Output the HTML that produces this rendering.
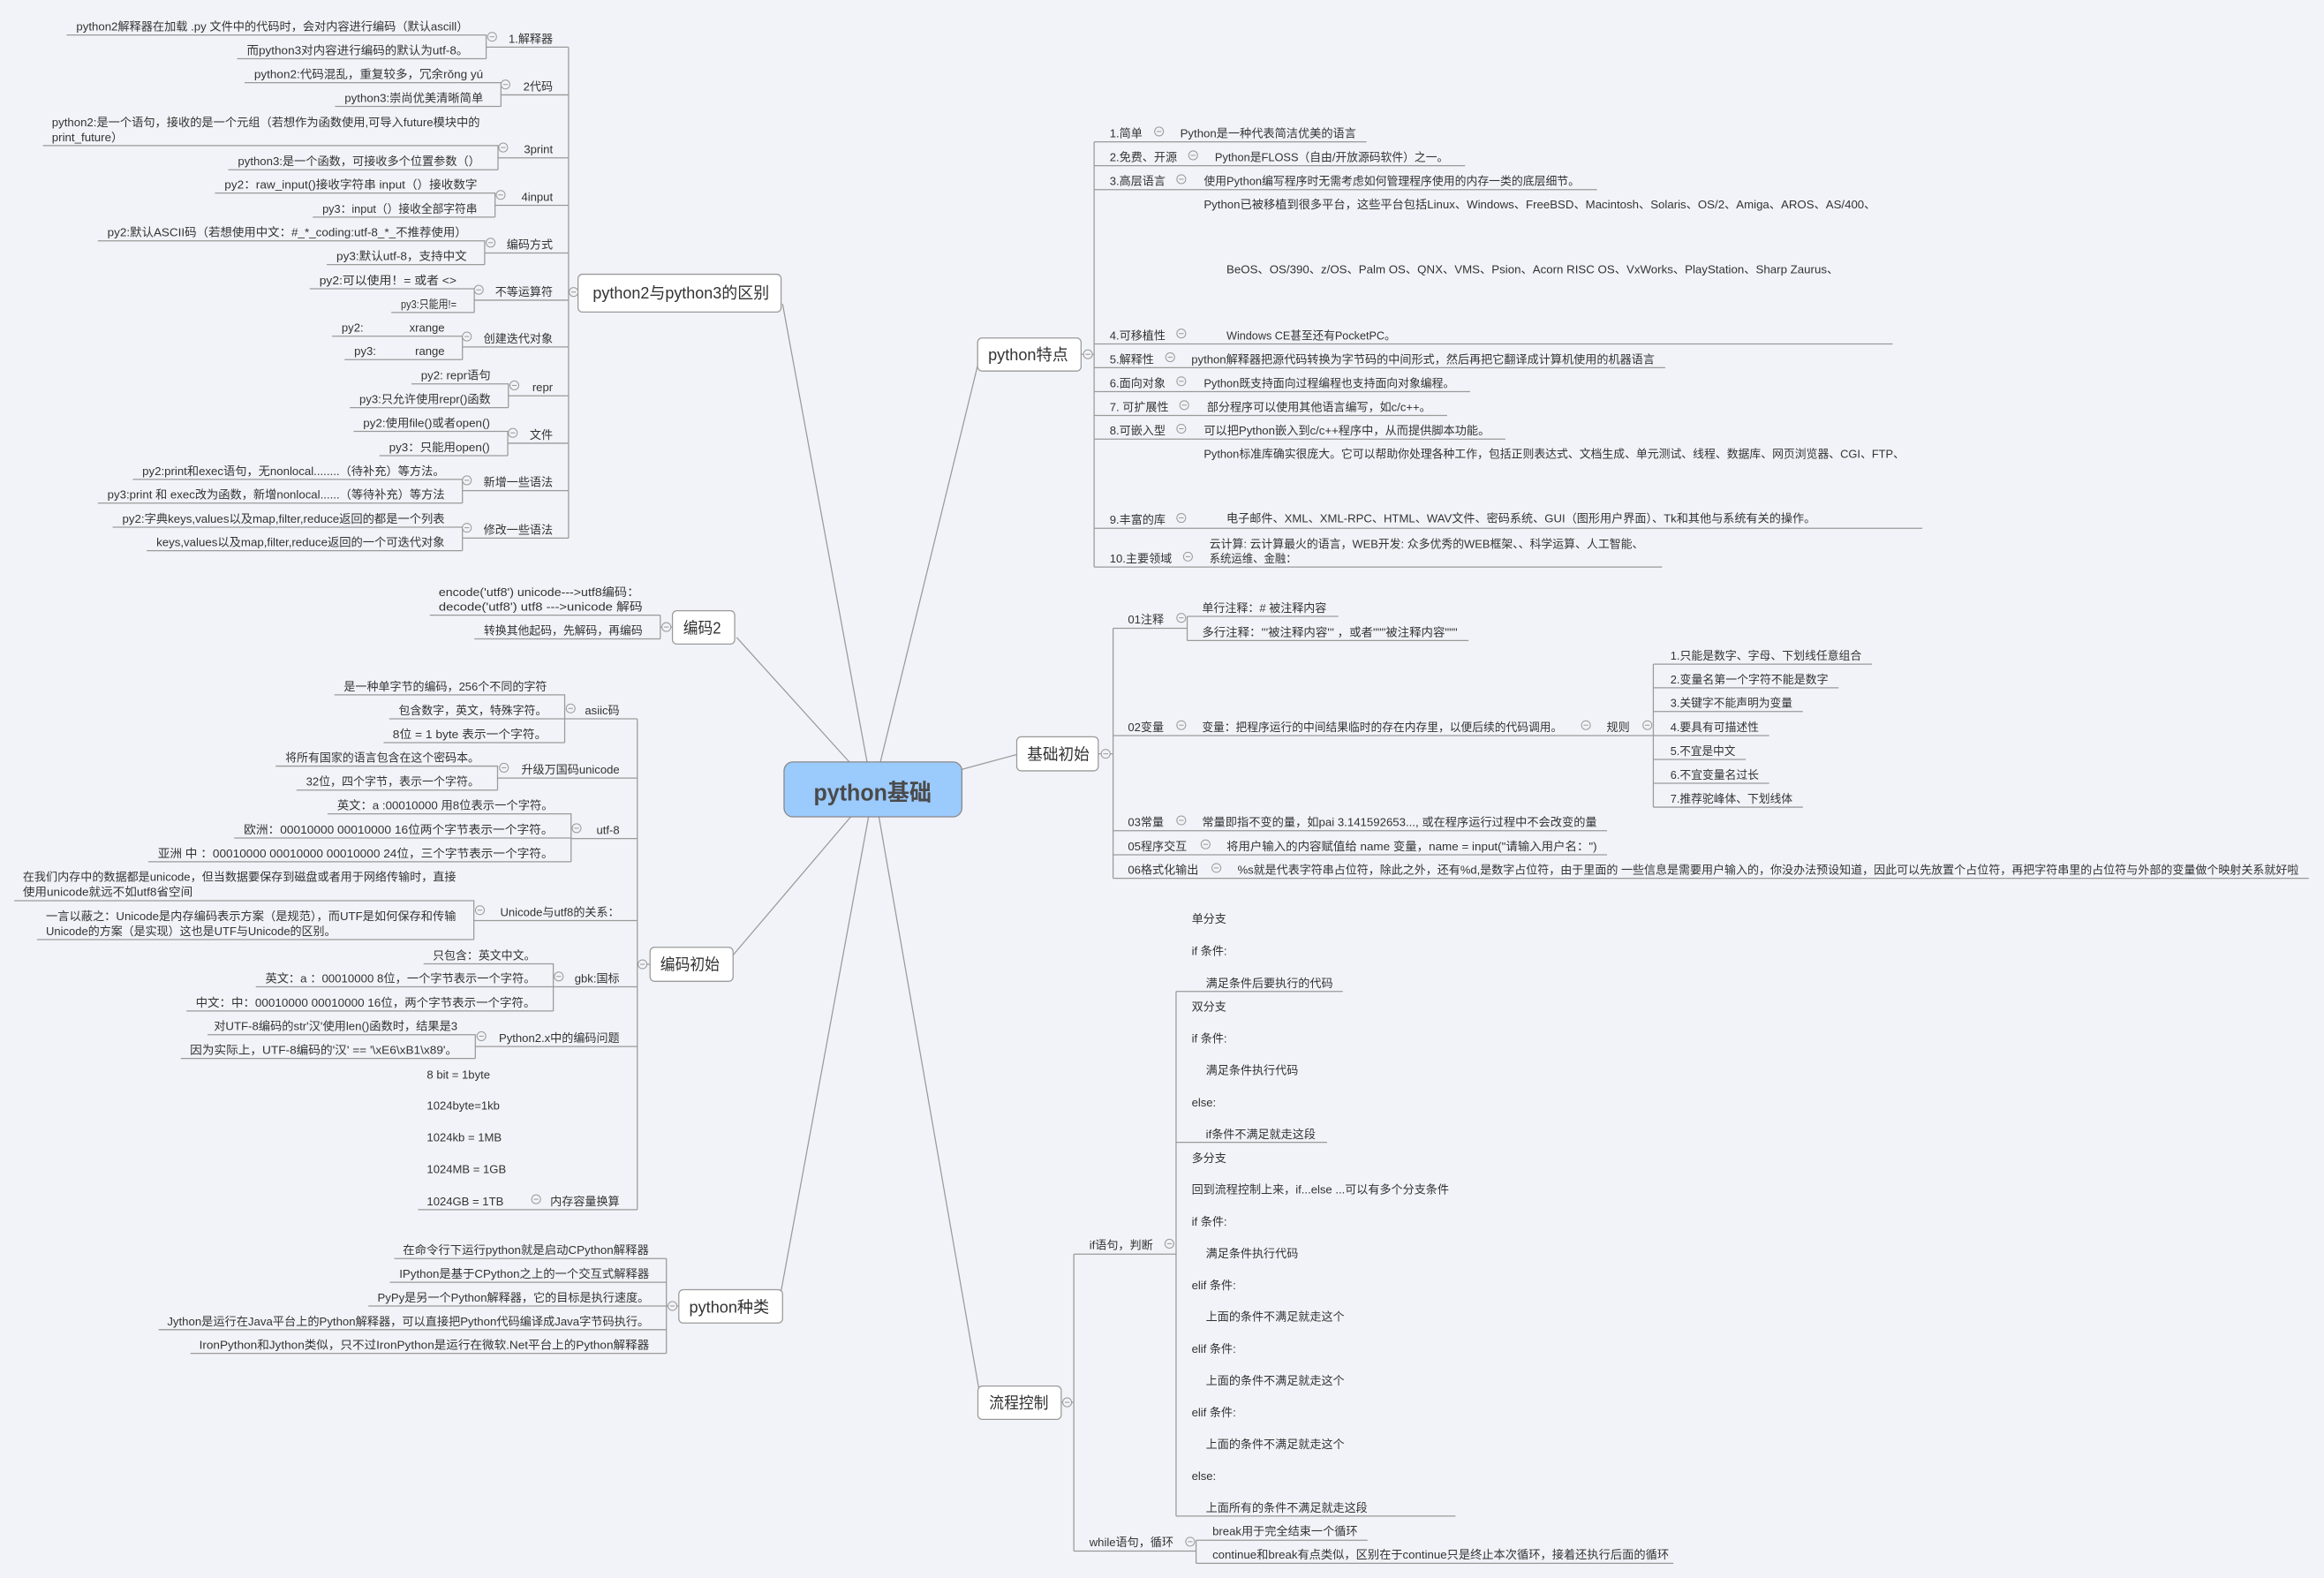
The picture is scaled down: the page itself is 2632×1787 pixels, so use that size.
<!DOCTYPE html>
<html><head><meta charset="utf-8"><style>
html,body{margin:0;padding:0;background:#f2f3f8;}
svg{display:block}
text{font-family:"Liberation Sans","Noto Sans CJK SC",sans-serif;fill:#333;font-size:7.8px}
.b{font-size:11px}
.e{text-anchor:end}
</style></head><body>
<svg width="2632" height="1787" viewBox="0 0 1568 1064.5" preserveAspectRatio="none" xmlns="http://www.w3.org/2000/svg">
<defs><g id="c"><circle r="3" fill="#f2f3f8" stroke="#9a9a9a" stroke-width="0.6"/><path d="M-1.6 0H1.6" stroke="#9a9a9a" stroke-width="0.6"/></g></defs>
<rect width="1568" height="1064.5" fill="#f2f3f8"/>
<g fill="none" stroke="#9a9a9a" stroke-width="0.75">
<path d="M528 205L585 514M497 430L573 514M660 245L594 514M686 509L649 519M494 645L574 551M527 871L586 551M661 940L593 551"/>
<path d="M383.6 31.8V363M383.6 197H390
M328 31.8H383.6M45 23.6H328V39.6M160 39.6H328
M338 64H383.6M165 55.8H338V71.8M226 71.8H338
M336 106.5H383.6M29 98.2H336V114.5M154 114.5H336
M334 138.5H383.6M145 130.2H334V146.5M211 146.5H334
M327 170.7H383.6M66 162.5H327V178.5M220.5 178.5H327
M320 202.5H383.6M209 194.8H320V210.8M264 210.8H320
M312 234H383.6M224 226.8H312V242.6M232.5 242.6H312
M343 267H383.6M277.6 259H343V275M236 275H343
M342.6 299H383.6M238.6 291H342.6V307.4M256 307.4H342.6
M312 331H383.6M89.6 323.4H312V339.4M66 339.4H312
M312 363H383.6M76 355.6H312V371.5M99 371.5H312"/>
<path d="M445.5 415V431M290 415H445.5M320 431H445.5M445.5 423H453.7"/>
<path d="M430 485V816M430 650.5H438.6
M381 484.9H430M225.6 468.7H381V501M262.6 484.9H381M258.8 501H381
M335.7 524.9H430M186 516.8H335.7V533M200 533H335.7
M385.3 565.7H430M221 549H385.3V581.3M158 565.3H385.3M100 581.3H385.3
M319.7 621H430M9.6 607.6H319.7V633.8M25 633.8H319.7
M373.3 665.7H430M285.8 650.2H373.3V682M172.6 665.7H373.3M125.8 682H373.3
M320.7 706H430M140 698H320.7V714M122 714H320.7
M282 816H430"/>
<path d="M449.6 849V913M266 849H449.6M263 865H449.6M248.5 881H449.6M107 897H449.6M128.5 913H449.6M449.6 881H458"/>
<path d="M738.2 95.7V382.5M729.4 239H738.2M738.2 95.7H922M738.2 111.8H988.5M738.2 127.9H1077.5M738.2 232H1277M738.2 248H1123.5M738.2 264.2H991.9M738.2 280.3H976.4M738.2 296.2H1015.7M738.2 356.4H1297M738.2 382.5H1121.4"/>
<path d="M751 423.8V592.5M741 508.5H751
M751 423.8H801M801 415.8V432.1M801 415.8H903M801 432.1H990.8
M751 496.2H1193.7M1115.5 448V544.5M1115.5 448H1263M1115.5 464H1240.5M1115.5 480H1216.4M1115.5 512.3H1177.9M1115.5 528.4H1193.7M1115.5 544.5H1216.4
M751 560.4H1084.3M751 576.6H1084.3M751 592.5H1557.7"/>
<path d="M724.5 846V1046.3M716 946H724.5M724.5 846H793.5M793.5 668.8V1022.7M793.5 668.8H906M793.5 770.6H895.4M793.5 1022.7H982
M724.5 1046.3H807M807 1039V1054.6M807 1039H922.7M807 1054.6H1129"/>
</g>
<!-- boxes -->
<g stroke="#9a9a9a" stroke-width="0.75" fill="#fff">
<rect x="390" y="185" width="137" height="25.5" rx="3"/>
<rect x="453.7" y="412" width="42" height="22.5" rx="3"/>
<rect x="438.6" y="639" width="56" height="23" rx="3"/>
<rect x="458" y="870" width="70" height="22.5" rx="3"/>
<rect x="659.6" y="228" width="69.8" height="22.3" rx="3"/>
<rect x="686" y="497" width="55" height="23" rx="3"/>
<rect x="659.8" y="935" width="56.2" height="22.5" rx="3"/>
<rect x="529" y="514" width="120" height="37" rx="6" fill="#9bcafc" stroke="#888"/>
</g>
<text x="549" y="540" textLength="79.5" lengthAdjust="spacingAndGlyphs" style="font-size:15.5px;font-weight:bold;fill:#4a4a4a">python基础</text>
<text class="b" x="400" y="201.5" textLength="119" lengthAdjust="spacingAndGlyphs">python2与python3的区别</text>
<text class="b" x="461" y="427.5" textLength="25.5" lengthAdjust="spacingAndGlyphs">编码2</text>
<text class="b" x="445.5" y="654.5" textLength="40" lengthAdjust="spacingAndGlyphs">编码初始</text>
<text class="b" x="465" y="885.5" textLength="54" lengthAdjust="spacingAndGlyphs">python种类</text>
<text class="b" x="666.7" y="243" textLength="54" lengthAdjust="spacingAndGlyphs">python特点</text>
<text class="b" x="693" y="512.5" textLength="42" lengthAdjust="spacingAndGlyphs">基础初始</text>
<text class="b" x="667.4" y="950" textLength="40" lengthAdjust="spacingAndGlyphs">流程控制</text>
<!-- circles -->
<use href="#c" x="387" y="197"/><use href="#c" x="332" y="24.8"/><use href="#c" x="341" y="57"/><use href="#c" x="339.5" y="99.5"/><use href="#c" x="337.8" y="131.5"/><use href="#c" x="331" y="163.7"/><use href="#c" x="323" y="195.5"/><use href="#c" x="315" y="227"/><use href="#c" x="347" y="260"/><use href="#c" x="346" y="292"/><use href="#c" x="315" y="324"/><use href="#c" x="315" y="356"/>
<use href="#c" x="449.6" y="423"/>
<use href="#c" x="433.5" y="650.5"/><use href="#c" x="385" y="477.9"/><use href="#c" x="340" y="517.9"/><use href="#c" x="389" y="558.7"/><use href="#c" x="323.8" y="614"/><use href="#c" x="377" y="658.7"/><use href="#c" x="324.8" y="699"/><use href="#c" x="361.7" y="809"/>
<use href="#c" x="453.7" y="881"/>
<use href="#c" x="734" y="239"/><use href="#c" x="782" y="88.7"/><use href="#c" x="805" y="104.8"/><use href="#c" x="797" y="120.9"/><use href="#c" x="797" y="225"/><use href="#c" x="789.5" y="241"/><use href="#c" x="797" y="257.2"/><use href="#c" x="799" y="273.3"/><use href="#c" x="797" y="289.2"/><use href="#c" x="797" y="349.4"/><use href="#c" x="801.5" y="375.5"/>
<use href="#c" x="746" y="508.5"/><use href="#c" x="797" y="416.8"/><use href="#c" x="797" y="489.2"/><use href="#c" x="1070" y="489.2"/><use href="#c" x="1111.5" y="489.2"/><use href="#c" x="797" y="553.4"/><use href="#c" x="813.4" y="569.6"/><use href="#c" x="820.7" y="585.5"/>
<use href="#c" x="720" y="946"/><use href="#c" x="789" y="839"/><use href="#c" x="803" y="1040"/>
<!-- group1 labels -->
<text class="e" x="373" y="28.8">1.解释器</text>
<text class="e" x="373" y="61">2代码</text>
<text class="e" x="373" y="103.5">3print</text>
<text class="e" x="373" y="135.5">4input</text>
<text class="e" x="373" y="167.7">编码方式</text>
<text class="e" x="373" y="199.5">不等运算符</text>
<text class="e" x="373" y="231">创建迭代对象</text>
<text class="e" x="373" y="264">repr</text>
<text class="e" x="373" y="296">文件</text>
<text class="e" x="373" y="328">新增一些语法</text>
<text class="e" x="373" y="360">修改一些语法</text>
<!-- group1 leaves -->
<g style="" >
<text x="51.5" y="20.6" textLength="264.5" lengthAdjust="spacingAndGlyphs">python2解释器在加载 .py 文件中的代码时，会对内容进行编码（默认ascill）</text>
<text x="166.5" y="36.6" textLength="149.5" lengthAdjust="spacingAndGlyphs">而python3对内容进行编码的默认为utf-8。</text>
<text x="171.5" y="52.8" textLength="154.5" lengthAdjust="spacingAndGlyphs">python2:代码混乱，重复较多，冗余rǒng yú</text>
<text x="232.5" y="68.8" textLength="93.5" lengthAdjust="spacingAndGlyphs">python3:崇尚优美清晰简单</text>
<text x="35" y="85.2" textLength="288.8" lengthAdjust="spacingAndGlyphs">python2:是一个语句，接收的是一个元组（若想作为函数使用,可导入future模块中的</text>
<text x="35" y="95.2" textLength="48" lengthAdjust="spacingAndGlyphs">print_future）</text>
<text x="160.5" y="111.5" textLength="163.5" lengthAdjust="spacingAndGlyphs">python3:是一个函数，可接收多个位置参数（）</text>
<text x="151.5" y="127.2" textLength="170.5" lengthAdjust="spacingAndGlyphs">py2：raw_input()接收字符串  input（）接收数字</text>
<text x="217.5" y="143.5" textLength="104.5" lengthAdjust="spacingAndGlyphs">py3：input（）接收全部字符串</text>
<text x="72.5" y="159.5" textLength="242.5" lengthAdjust="spacingAndGlyphs">py2:默认ASCII码（若想使用中文：#_*_coding:utf-8_*_不推荐使用）</text>
<text x="227" y="175.5" textLength="88" lengthAdjust="spacingAndGlyphs">py3:默认utf-8，支持中文</text>
<text x="215.5" y="191.8" textLength="92.5" lengthAdjust="spacingAndGlyphs">py2:可以使用！= 或者 &lt;&gt;</text>
<text x="270.5" y="207.8" textLength="37.5" lengthAdjust="spacingAndGlyphs">py3:只能用!=</text>
<text x="230.5" y="223.8">py2:</text><text class="e" x="300" y="223.8">xrange</text>
<text x="239" y="239.6">py3:</text><text class="e" x="300" y="239.6">range</text>
<text x="284" y="256" textLength="47" lengthAdjust="spacingAndGlyphs">py2: repr语句</text>
<text x="242.5" y="272" textLength="88.5" lengthAdjust="spacingAndGlyphs">py3:只允许使用repr()函数</text>
<text x="245" y="288" textLength="85.6" lengthAdjust="spacingAndGlyphs">py2:使用file()或者open()</text>
<text x="262.5" y="304.4" textLength="68" lengthAdjust="spacingAndGlyphs">py3：只能用open()</text>
<text x="96" y="320.4" textLength="204" lengthAdjust="spacingAndGlyphs">py2:print和exec语句，无nonlocal........（待补充）等方法。</text>
<text x="72.5" y="336.4" textLength="227.5" lengthAdjust="spacingAndGlyphs">py3:print 和 exec改为函数，新增nonlocal......（等待补充）等方法</text>
<text x="82.5" y="352.6" textLength="217.5" lengthAdjust="spacingAndGlyphs">py2:字典keys,values以及map,filter,reduce返回的都是一个列表</text>
<text x="105.5" y="368.5" textLength="194.5" lengthAdjust="spacingAndGlyphs">keys,values以及map,filter,reduce返回的一个可迭代对象</text>
</g>
<!-- 编码2 -->
<text x="296" y="402" textLength="135.5" lengthAdjust="spacingAndGlyphs">encode('utf8') unicode---&gt;utf8编码：</text>
<text x="296" y="412" textLength="137.5" lengthAdjust="spacingAndGlyphs">decode('utf8') utf8 ---&gt;unicode  解码</text>
<text x="326.5" y="428" textLength="107" lengthAdjust="spacingAndGlyphs">转换其他起码，先解码，再编码</text>
<!-- 编码初始 -->
<text class="e" x="418" y="481.9">asiic码</text>
<text class="e" x="418" y="521.9">升级万国码unicode</text>
<text class="e" x="418" y="562.7">utf-8</text>
<text class="e" x="418" y="618">Unicode与utf8的关系：</text>
<text class="e" x="418" y="662.7">gbk:国标</text>
<text class="e" x="418" y="703">Python2.x中的编码问题</text>
<text class="e" x="418" y="813">内存容量换算</text>
<text x="232" y="465.7" textLength="137" lengthAdjust="spacingAndGlyphs">是一种单字节的编码，256个不同的字符</text>
<text x="269" y="481.9" textLength="100" lengthAdjust="spacingAndGlyphs">包含数字，英文，特殊字符。</text>
<text x="265" y="498" textLength="104" lengthAdjust="spacingAndGlyphs">8位 = 1 byte  表示一个字符。</text>
<text x="192.5" y="513.8" textLength="131" lengthAdjust="spacingAndGlyphs">将所有国家的语言包含在这个密码本。</text>
<text x="206.5" y="530" textLength="117" lengthAdjust="spacingAndGlyphs">32位，四个字节，表示一个字符。</text>
<text x="227.5" y="546" textLength="145.8" lengthAdjust="spacingAndGlyphs">英文：a :00010000 用8位表示一个字符。</text>
<text x="164.5" y="562.3" textLength="208.8" lengthAdjust="spacingAndGlyphs">欧洲：00010000 00010000 16位两个字节表示一个字符。</text>
<text x="106.5" y="578.3" textLength="266.8" lengthAdjust="spacingAndGlyphs">亚洲 中 ：00010000 00010000 00010000 24位，三个字节表示一个字符。</text>
<text x="15.4" y="594.3" textLength="292.3" lengthAdjust="spacingAndGlyphs">在我们内存中的数据都是unicode，但当数据要保存到磁盘或者用于网络传输时，直接</text>
<text x="15.4" y="604.3" textLength="114.6" lengthAdjust="spacingAndGlyphs">使用unicode就远不如utf8省空间</text>
<text x="31" y="620.7" textLength="276.7" lengthAdjust="spacingAndGlyphs">一言以蔽之：Unicode是内存编码表示方案（是规范），而UTF是如何保存和传输</text>
<text x="31" y="630.9" textLength="195.7" lengthAdjust="spacingAndGlyphs">Unicode的方案（是实现）这也是UTF与Unicode的区别。</text>
<text x="292" y="647.2" textLength="69.3" lengthAdjust="spacingAndGlyphs">只包含：英文中文。</text>
<text x="179" y="662.7" textLength="182.3" lengthAdjust="spacingAndGlyphs">英文：a ：00010000 8位，一个字节表示一个字符。</text>
<text x="132" y="679" textLength="229.3" lengthAdjust="spacingAndGlyphs">中文：中：00010000 00010000 16位，两个字节表示一个字符。</text>
<text x="144.3" y="695" textLength="164.4" lengthAdjust="spacingAndGlyphs">对UTF-8编码的str'汉'使用len()函数时，结果是3</text>
<text x="128.2" y="711" textLength="180.5" lengthAdjust="spacingAndGlyphs">因为实际上，UTF-8编码的'汉' == '\xE6\xB1\x89'。</text>
<text x="288" y="727.5">8 bit = 1byte</text>
<text x="288" y="748.5">1024byte=1kb</text>
<text x="288" y="770">1024kb = 1MB</text>
<text x="288" y="791.5">1024MB = 1GB</text>
<text x="288" y="813">1024GB = 1TB</text>
<!-- python种类 -->
<text x="271.8" y="846" textLength="166" lengthAdjust="spacingAndGlyphs">在命令行下运行python就是启动CPython解释器</text>
<text x="269.4" y="862" textLength="168.6" lengthAdjust="spacingAndGlyphs">IPython是基于CPython之上的一个交互式解释器</text>
<text x="254.7" y="878" textLength="183.3" lengthAdjust="spacingAndGlyphs">PyPy是另一个Python解释器，它的目标是执行速度。</text>
<text x="112.8" y="894" textLength="325.2" lengthAdjust="spacingAndGlyphs">Jython是运行在Java平台上的Python解释器，可以直接把Python代码编译成Java字节码执行。</text>
<text x="134.4" y="910" textLength="303.6" lengthAdjust="spacingAndGlyphs">IronPython和Jython类似，只不过IronPython是运行在微软.Net平台上的Python解释器</text>
<!-- python特点 -->
<text x="748.7" y="92.7">1.简单</text>
<text x="748.7" y="108.8">2.免费、开源</text>
<text x="748.7" y="124.9">3.高层语言</text>
<text x="748.7" y="229">4.可移植性</text>
<text x="748.7" y="245">5.解释性</text>
<text x="748.7" y="261.2">6.面向对象</text>
<text x="748.7" y="277.3">7. 可扩展性</text>
<text x="748.7" y="293.2">8.可嵌入型</text>
<text x="748.7" y="353.4">9.丰富的库</text>
<text x="748.7" y="379.5">10.主要领域</text>
<text x="796.3" y="92.7" textLength="118.7" lengthAdjust="spacingAndGlyphs">Python是一种代表简洁优美的语言</text>
<text x="819.7" y="108.8" textLength="157.5" lengthAdjust="spacingAndGlyphs">Python是FLOSS（自由/开放源码软件）之一。</text>
<text x="812.2" y="124.9" textLength="253.6" lengthAdjust="spacingAndGlyphs">使用Python编写程序时无需考虑如何管理程序使用的内存一类的底层细节。</text>
<text x="812.2" y="140.5" textLength="453.4" lengthAdjust="spacingAndGlyphs">Python已被移植到很多平台，这些平台包括Linux、Windows、FreeBSD、Macintosh、Solaris、OS/2、Amiga、AROS、AS/400、</text>
<text x="827.5" y="184.5" textLength="413" lengthAdjust="spacingAndGlyphs">BeOS、OS/390、z/OS、Palm OS、QNX、VMS、Psion、Acorn RISC OS、VxWorks、PlayStation、Sharp Zaurus、</text>
<text x="827.5" y="229" textLength="114.2" lengthAdjust="spacingAndGlyphs">Windows CE甚至还有PocketPC。</text>
<text x="803.8" y="245" textLength="312.6" lengthAdjust="spacingAndGlyphs">python解释器把源代码转换为字节码的中间形式，然后再把它翻译成计算机使用的机器语言</text>
<text x="812.2" y="261.2" textLength="169.2" lengthAdjust="spacingAndGlyphs">Python既支持面向过程编程也支持面向对象编程。</text>
<text x="814.3" y="277.3" textLength="151.2" lengthAdjust="spacingAndGlyphs">部分程序可以使用其他语言编写，如c/c++。</text>
<text x="812.2" y="293.2" textLength="193" lengthAdjust="spacingAndGlyphs">可以把Python嵌入到c/c++程序中，从而提供脚本功能。</text>
<text x="812.2" y="309" textLength="472.8" lengthAdjust="spacingAndGlyphs">Python标准库确实很庞大。它可以帮助你处理各种工作，包括正则表达式、文档生成、单元测试、线程、数据库、网页浏览器、CGI、FTP、</text>
<text x="827.5" y="352.5" textLength="397.5" lengthAdjust="spacingAndGlyphs">电子邮件、XML、XML-RPC、HTML、WAV文件、密码系统、GUI（图形用户界面）、Tk和其他与系统有关的操作。</text>
<text x="816" y="369.5" textLength="292.9" lengthAdjust="spacingAndGlyphs">云计算: 云计算最火的语言，WEB开发: 众多优秀的WEB框架、、科学运算、人工智能、</text>
<text x="816" y="379.5" textLength="58.9" lengthAdjust="spacingAndGlyphs">系统运维、金融：</text>
<!-- 基础初始 -->
<text x="761" y="420.5">01注释</text>
<text x="761" y="493.2">02变量</text>
<text x="761" y="557.4">03常量</text>
<text x="761" y="573.6">05程序交互</text>
<text x="761" y="589.5">06格式化输出</text>
<text x="811" y="412.8" textLength="84" lengthAdjust="spacingAndGlyphs">单行注释：# 被注释内容</text>
<text x="811" y="429.1" textLength="172.4" lengthAdjust="spacingAndGlyphs">多行注释：'''被注释内容''' ，或者"""被注释内容"""</text>
<text x="811" y="493.2" textLength="243" lengthAdjust="spacingAndGlyphs">变量：把程序运行的中间结果临时的存在内存里，以便后续的代码调用。</text>
<text x="1084" y="493.2">规则</text>
<text x="1127" y="445" textLength="129" lengthAdjust="spacingAndGlyphs">1.只能是数字、字母、下划线任意组合</text>
<text x="1127" y="461" textLength="106.5" lengthAdjust="spacingAndGlyphs">2.变量名第一个字符不能是数字</text>
<text x="1127" y="477" textLength="82.4" lengthAdjust="spacingAndGlyphs">3.关键字不能声明为变量</text>
<text x="1127" y="493.2" textLength="59.7" lengthAdjust="spacingAndGlyphs">4.要具有可描述性</text>
<text x="1127" y="509.3" textLength="43.9" lengthAdjust="spacingAndGlyphs">5.不宜是中文</text>
<text x="1127" y="525.4" textLength="59.7" lengthAdjust="spacingAndGlyphs">6.不宜变量名过长</text>
<text x="1127" y="541.5" textLength="82.4" lengthAdjust="spacingAndGlyphs">7.推荐驼峰体、下划线体</text>
<text x="811" y="557.4" textLength="266.5" lengthAdjust="spacingAndGlyphs">常量即指不变的量，如pai 3.141592653..., 或在程序运行过程中不会改变的量</text>
<text x="827.5" y="573.6" textLength="250" lengthAdjust="spacingAndGlyphs">将用户输入的内容赋值给 name 变量，name = input("请输入用户名：")</text>
<text x="835" y="589.5" textLength="716" lengthAdjust="spacingAndGlyphs">%s就是代表字符串占位符，除此之外，还有%d,是数字占位符，由于里面的 一些信息是需要用户输入的，你没办法预设知道，因此可以先放置个占位符，再把字符串里的占位符与外部的变量做个映射关系就好啦</text>
<!-- 流程控制 -->
<text x="735" y="842.5">if语句，判断</text>
<text x="735" y="1043">while语句，循环</text>
<text x="804" y="622.5">单分支</text>
<text x="804" y="644.3">if 条件:</text>
<text x="813.6" y="666">满足条件后要执行的代码</text>
<text x="804" y="681.7">双分支</text>
<text x="804" y="703.3">if 条件:</text>
<text x="813.6" y="724.8">满足条件执行代码</text>
<text x="804" y="746.5">else:</text>
<text x="813.6" y="767.8">if条件不满足就走这段</text>
<text x="804" y="783.8">多分支</text>
<text x="804" y="805.1">回到流程控制上来，if...else ...可以有多个分支条件</text>
<text x="804" y="826.7">if 条件:</text>
<text x="813.6" y="848.2">满足条件执行代码</text>
<text x="804" y="869.7">elif 条件:</text>
<text x="813.6" y="891">上面的条件不满足就走这个</text>
<text x="804" y="912.5">elif 条件:</text>
<text x="813.6" y="934">上面的条件不满足就走这个</text>
<text x="804" y="955.5">elif 条件:</text>
<text x="813.6" y="977">上面的条件不满足就走这个</text>
<text x="804" y="998.5">else:</text>
<text x="813.6" y="1019.9">上面所有的条件不满足就走这段</text>
<text x="818" y="1035.5" textLength="98" lengthAdjust="spacingAndGlyphs">break用于完全结束一个循环</text>
<text x="818" y="1051.5" textLength="308" lengthAdjust="spacingAndGlyphs">continue和break有点类似，区别在于continue只是终止本次循环，接着还执行后面的循环</text>
</svg>
</body></html>
